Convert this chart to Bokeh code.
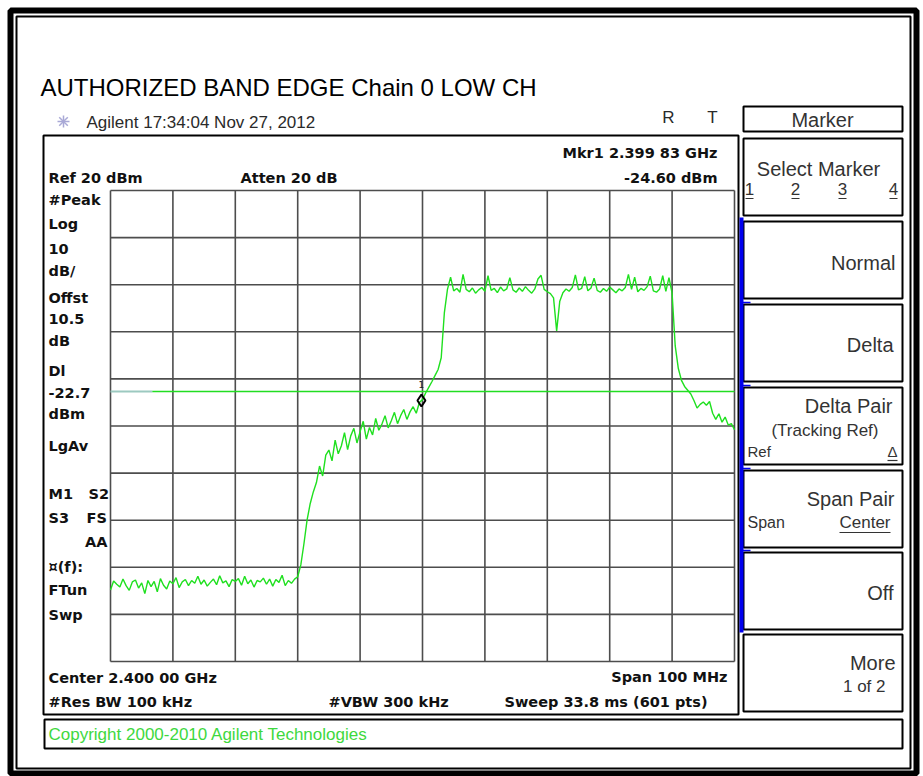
from bokeh.plotting import figure
from bokeh.models import Range1d, Label
from bokeh.embed import file_html
from bokeh.resources import INLINE
import numpy as np

# ---------------- sweep settings ----------------
START_MHZ = 2350.0
STOP_MHZ = 2450.0
REF_LEVEL_DBM = 20.0
DB_PER_DIV = 10.0
N_DIV = 10
DISPLAY_LINE_DBM = -22.7
MARKER_GHZ = 2.39983
MARKER_DBM = -24.60
SWEEP_POINTS = 601

# ---------------- trace (dBm), 0.5 MHz steps ----------------
floor_dbm = [
    -64.8, -62.9, -63.6, -64.2, -62.5, -63.9, -64.9, -63.1, -62.7, -64.4,
    -63.3, -65.6, -62.8, -64.1, -63.0, -65.2, -62.4, -63.8, -64.6, -62.9,
    -63.5, -62.2, -64.3, -63.1, -62.6, -63.9, -62.8, -63.4, -61.9, -63.6,
    -62.7, -64.0, -63.2, -62.5, -63.7, -61.8, -63.3, -62.9, -64.1, -62.6,
    -63.0, -62.4, -63.8, -61.9, -63.5, -62.7, -64.2, -62.8, -63.1, -62.3,
    -63.6, -62.5, -64.0, -62.6, -63.2, -61.7, -63.9, -62.8, -63.4, -62.5,
    -62.0,
]
lower_edge_dbm = [
    -59.5, -55.0, -50.0, -46.5, -44.0, -42.0,
    -38.5, -40.6, -36.2, -35.1, -37.4, -33.0, -35.9, -34.2, -31.4, -35.0,
    -32.1, -30.5, -33.6, -31.2, -29.0, -32.8, -30.3, -31.9, -28.4, -30.9,
    -29.6, -27.8, -30.4, -28.9, -27.1, -29.5, -27.8, -26.5, -28.6, -27.0,
    -25.9, -27.3, -25.0, -24.4,
    -23.0, -21.8, -20.6, -19.3, -18.0, -15.5, -6.0,
]
channel_dbm = [
    -1.0, 1.6, -1.3, -0.8, -1.6, 2.2, -1.0, -1.5, -0.7, -1.8,
    -1.1, -0.6, -1.4, 1.9, -1.2, -0.8, -1.7, -0.5, -1.3, -0.9,
    1.5, -1.1, -1.6, -0.7, -1.4, -0.4, -1.2, -1.8, -0.9, 1.2,
    2.0, -1.0, -1.5, -1.9, -2.8, -9.8, -3.5, -1.7, -0.9, -1.4,
    -0.6, 2.1, -1.1, -0.8, 1.7, -1.3, -0.7, 1.4, -1.2, -1.6,
    -0.8, -1.4, -0.5, -1.1, -1.7, -0.9, -1.3, -0.6, 2.2, -1.0,
    1.6, -1.5, -0.8, -1.2, -0.4, 1.8, -1.3, -1.6, -0.9, 1.9,
    -1.4, 1.5, -1.8,
]
upper_edge_dbm = [
    -13.0, -17.8, -20.3, -21.6, -22.4, -23.2, -24.6, -26.2, -25.4, -24.9,
    -25.6, -24.8, -27.3, -28.6, -27.4, -29.2, -28.1, -29.8, -29.5, -30.8,
]
trace_dbm = floor_dbm + lower_edge_dbm + channel_dbm + upper_edge_dbm
freq_mhz = np.linspace(START_MHZ, STOP_MHZ, len(trace_dbm))

# ---------------- page geometry (pixels) ----------------
W, H = 923, 776
GX0, GX1 = 110, 734      # graticule left / right
GY0, GY1 = 190, 661      # graticule top / bottom

BOTTOM_DBM = REF_LEVEL_DBM - N_DIV * DB_PER_DIV
px_per_mhz = (GX1 - GX0) / (STOP_MHZ - START_MHZ)
px_per_db = (GY1 - GY0) / (REF_LEVEL_DBM - BOTTOM_DBM)

p = figure(width=W, height=H, x_range=Range1d(0, W), y_range=Range1d(H, 0),
           x_axis_location=None, y_axis_location=None, min_border=0,
           toolbar_location=None, output_backend="svg")
p.outline_line_color = None
p.xgrid.visible = False
p.ygrid.visible = False
p.background_fill_color = "white"
p.border_fill_color = "white"

# data scales mapped onto the graticule area
p.extra_x_ranges = {"freq": Range1d(START_MHZ - GX0 / px_per_mhz,
                                    STOP_MHZ + (W - GX1) / px_per_mhz)}
p.extra_y_ranges = {"dbm": Range1d(BOTTOM_DBM - (H - GY1) / px_per_db,
                                   REF_LEVEL_DBM + GY0 / px_per_db)}
DATA = dict(x_range_name="freq", y_range_name="dbm")


def box(l, t, r, b, w=2, color="black"):
    p.quad(left=[l], right=[r], top=[t], bottom=[b], fill_color=None,
           line_color=color, line_width=w)


def txt(x, y, s, size, bold=False, align="left", color="#111111",
        font="Liberation Sans"):
    p.add_layout(Label(x=x, y=y, text=s, text_font=font,
                       text_font_size=f"{size}px",
                       text_font_style="bold" if bold else "normal",
                       text_align=align, text_baseline="middle",
                       text_color=color))


# ---------------- page frame ----------------
box(10, 10, 916, 773, w=6)
box(16, 16, 910, 768, w=2)

txt(40, 87, "AUTHORIZED BAND EDGE Chain 0 LOW CH", 24, color="black")

# instrument header
snow = [(0, 1), (1, 0), (0.71, 0.71), (0.71, -0.71)]
for dx, dy in snow:
    p.segment(x0=[63 - 6 * dx], y0=[121 - 6 * dy], x1=[63 + 6 * dx],
              y1=[121 + 6 * dy], line_color="#a9a9d6", line_width=1.5)
txt(86, 122, "Agilent 17:34:04  Nov 27, 2012", 17, color="#2a2a2a")
txt(668, 117, "R", 17, align="center", color="#2a2a2a")
txt(712, 117, "T", 17, align="center", color="#2a2a2a")

# screen box and copyright box
box(43, 135, 738, 714, w=2)
box(44, 719, 902, 748, w=2)
txt(48, 734, "Copyright 2000-2010 Agilent Technologies", 17, color="#3ed83e")

# ---------------- graticule ----------------
vx = START_MHZ + np.arange(N_DIV + 1) * (STOP_MHZ - START_MHZ) / N_DIV
hy = REF_LEVEL_DBM - np.arange(N_DIV + 1) * DB_PER_DIV
p.segment(x0=vx, y0=[BOTTOM_DBM] * len(vx), x1=vx, y1=[REF_LEVEL_DBM] * len(vx),
          line_color="#4d4d4d", line_width=1.6, **DATA)
p.segment(x0=[START_MHZ] * len(hy), y0=hy, x1=[STOP_MHZ] * len(hy), y1=hy,
          line_color="#4d4d4d", line_width=1.6, **DATA)

# display line
DL_FADE_MHZ = 6.7
p.line([START_MHZ, START_MHZ + DL_FADE_MHZ], [DISPLAY_LINE_DBM] * 2,
       line_color="#9cc9c0", line_width=2, **DATA)
p.line([START_MHZ + DL_FADE_MHZ, STOP_MHZ], [DISPLAY_LINE_DBM] * 2,
       line_color="#22dd22", line_width=1.5, **DATA)

# trace
p.line(freq_mhz, trace_dbm, line_color="#1fe01f", line_width=1.4, **DATA)

# marker 1
marker_mhz = MARKER_GHZ * 1000.0
p.scatter([marker_mhz], [MARKER_DBM], marker="diamond", size=12,
          fill_color=None, line_color="black", line_width=2, **DATA)
p.add_layout(Label(x=marker_mhz, y=MARKER_DBM, text="1", y_offset=16,
                   text_font="DejaVu Sans", text_font_size="9px",
                   text_align="center", text_baseline="middle",
                   text_color="#222222", **DATA))

# ---------------- annotation texts ----------------
G = dict(bold=True, font="DejaVu Sans", size=14.5)
ghz = f"{MARKER_GHZ:.5f}"
txt(717, 152, f"Mkr1 {ghz[:5]} {ghz[5:]} GHz", align="right", **G)
txt(717, 177, f"{MARKER_DBM:.2f} dBm", align="right", **G)
txt(48, 177, f"Ref {REF_LEVEL_DBM:.0f} dBm", **G)
txt(240, 177, "Atten 20 dB", **G)

side = [("#Peak", 199), ("Log", 223), (f"{DB_PER_DIV:.0f}", 248), ("dB/", 270),
        ("Offst", 297), ("10.5", 318), ("dB", 340), ("Dl", 370),
        (f"{DISPLAY_LINE_DBM:.1f}", 392), ("dBm", 413), ("LgAv", 445),
        ("M1", 493), ("S3", 517), ("¤(f):", 566), ("FTun", 589), ("Swp", 614)]
for s, y in side:
    txt(48, y, s, **G)
txt(88, 493, "S2", **G)
txt(86, 517, "FS", **G)
txt(107, 541, "AA", align="right", **G)

center_ghz = (START_MHZ + STOP_MHZ) / 2000.0
cg = f"{center_ghz:.5f}"
txt(48, 677, f"Center {cg[:5]} {cg[5:]} GHz", **G)
txt(727, 676, f"Span {STOP_MHZ - START_MHZ:.0f} MHz", align="right", **G)
txt(48, 701, "#Res BW 100 kHz", **G)
txt(328, 701, "#VBW 300 kHz", **G)
txt(504, 701, f"Sweep 33.8 ms ({SWEEP_POINTS} pts)", **G)

# ---------------- softkey panel ----------------
SK_L, SK_R = 743, 902
box(SK_L, 106, SK_R, 131, w=2)
txt(822, 119, "Marker", 20, align="center", color="#333333")
key_tops = [138, 221, 304, 387, 470, 552, 634]
for t in key_tops:
    box(SK_L, t, SK_R, t + 77, w=2)
p.segment(x0=[741], y0=[217], x1=[741], y1=[632], line_color="#0000ee",
          line_width=4)
for t in key_tops[2:6]:
    p.segment(x0=[741], y0=[t - 2], x1=[750], y1=[t - 2],
              line_color="#0000ee", line_width=1.5)

SK = dict(color="#333333")
txt(818, 168, "Select Marker", 20, align="center", **SK)
for d, x in zip(["1", "2", "3", "4"], [749, 795, 842, 893]):
    txt(x, 188, d, 17, align="center", **SK)
    p.segment(x0=[x - 4], y0=[198], x1=[x + 4], y1=[198],
              line_color="#333333", line_width=1.2)
txt(895, 262, "Normal", 20, align="right", **SK)
txt(893, 344, "Delta", 20, align="right", **SK)
txt(892, 405, "Delta Pair", 20, align="right", **SK)
txt(878, 430, "(Tracking Ref)", 17, align="right", **SK)
txt(747, 451, "Ref", 15, **SK)
txt(892, 451, "Δ", 15, align="center", **SK)
p.segment(x0=[887], y0=[460], x1=[897], y1=[460], line_color="#333333",
          line_width=1.2)
txt(894, 498, "Span Pair", 20, align="right", **SK)
txt(747, 522, "Span", 16, **SK)
txt(890, 522, "Center", 17, align="right", **SK)
p.segment(x0=[839], y0=[532], x1=[890], y1=[532], line_color="#333333",
          line_width=1.2)
txt(893, 592, "Off", 20, align="right", **SK)
txt(895, 662, "More", 20, align="right", **SK)
txt(885, 686, "1 of 2", 17, align="right", **SK)

open("out.html", "w").write(file_html(p, INLINE))
